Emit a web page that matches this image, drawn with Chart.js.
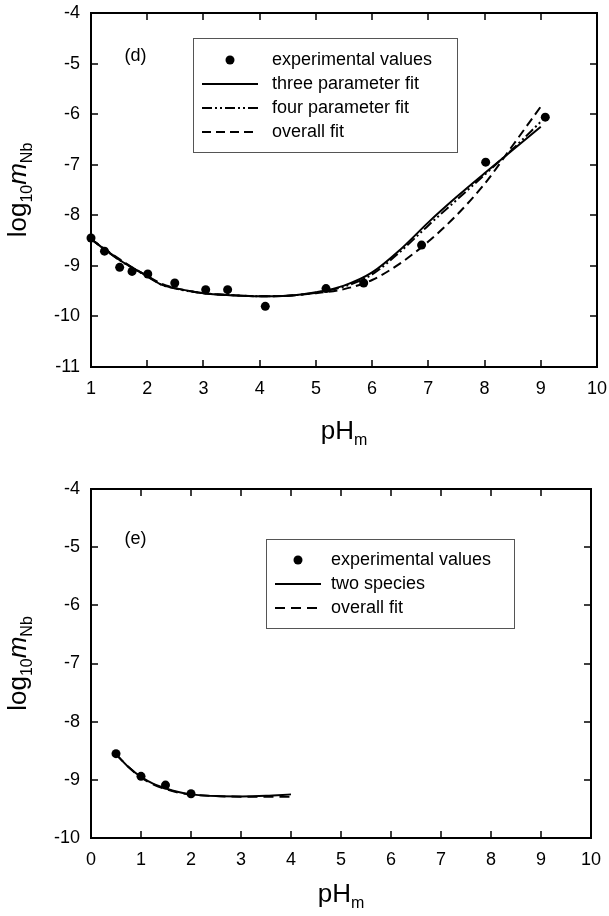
<!DOCTYPE html>
<html>
<head>
<meta charset="utf-8">
<script src="https://cdn.jsdelivr.net/npm/chart.js@4.4.1/dist/chart.umd.min.js"></script>
<style>
  html, body { margin: 0; padding: 0; background: #fff; }
  .panel { position: absolute; left: 0; }
</style>
</head>
<body>
<div class="panel" style="top:0"><canvas id="chartD" width="609" height="460"></canvas></div>
<div class="panel" style="top:460px"><canvas id="chartE" width="609" height="456"></canvas></div>
<script>
// panel (d)
const dExpX = [1.0, 1.24, 1.51, 1.73, 2.01, 2.49, 3.04, 3.43, 4.10, 5.18, 5.85, 6.88, 8.02, 9.08];
const dExpY = [-8.45, -8.71, -9.03, -9.11, -9.16, -9.34, -9.47, -9.47, -9.80, -9.45, -9.34, -8.59, -6.95, -6.06];
const dFitX = [1.0, 1.25, 1.5, 1.75, 2.0, 2.25, 2.5, 3.0, 3.5, 4.0, 4.5, 5.0, 5.5, 6.0, 6.5, 7.0, 7.5, 8.0, 8.5, 9.0];
const threeParamY = [-8.47, -8.68, -8.88, -9.05, -9.20, -9.37, -9.44, -9.54, -9.58, -9.60, -9.59, -9.52, -9.39, -9.13, -8.68, -8.14, -7.64, -7.17, -6.71, -6.25];
const fourParamY = [-8.47, -8.68, -8.88, -9.05, -9.21, -9.37, -9.45, -9.54, -9.58, -9.60, -9.59, -9.53, -9.41, -9.17, -8.72, -8.20, -7.70, -7.20, -6.69, -6.15];
const dOverallY = [-8.47, -8.67, -8.86, -9.04, -9.20, -9.35, -9.44, -9.54, -9.58, -9.60, -9.59, -9.54, -9.46, -9.28, -8.95, -8.52, -8.00, -7.38, -6.62, -5.85];
const dXTicks = [1, 2, 3, 4, 5, 6, 7, 8, 9, 10];
const dYTicks = [-11, -10, -9, -8, -7, -6, -5, -4];

// panel (e)
const eExpX = [0.5, 1.0, 1.49, 2.0];
const eExpY = [-8.55, -8.94, -9.09, -9.24];
const eFitX = [0.5, 0.75, 1.0, 1.25, 1.5, 1.75, 2.0, 2.5, 3.0, 3.5, 4.0];
const twoSpeciesY = [-8.56, -8.78, -8.95, -9.07, -9.15, -9.21, -9.25, -9.28, -9.285, -9.275, -9.25];
const eOverallY = [-8.56, -8.78, -8.96, -9.08, -9.16, -9.22, -9.25, -9.28, -9.29, -9.29, -9.29];
const eXTicks = [0, 1, 2, 3, 4, 5, 6, 7, 8, 9, 10];
const eYTicks = [-10, -9, -8, -7, -6, -5, -4];

const FONT = '"Liberation Sans", Arial, Helvetica, sans-serif';
const pts = (xs, ys) => xs.map((x, i) => ({ x: x, y: ys[i] }));

// box, inward ticks on all four sides
const framePlugin = {
    id: 'frame',
    afterDatasetsDraw(chart) {
        const { ctx, chartArea: a, scales: { x, y } } = chart;
        ctx.save();
        ctx.strokeStyle = '#000';
        ctx.lineWidth = 2;
        ctx.strokeRect(a.left, a.top, a.width, a.height);
        ctx.lineWidth = 1.5;
        ctx.beginPath();
        x.ticks.forEach(t => {
            const px = Math.round(x.getPixelForValue(t.value));
            if (px <= a.left + 1 || px >= a.right - 1) return;
            ctx.moveTo(px, a.bottom); ctx.lineTo(px, a.bottom - 7);
            ctx.moveTo(px, a.top); ctx.lineTo(px, a.top + 7);
        });
        y.ticks.forEach(t => {
            const py = Math.round(y.getPixelForValue(t.value));
            if (py <= a.top + 1 || py >= a.bottom - 1) return;
            ctx.moveTo(a.left, py); ctx.lineTo(a.left + 7, py);
            ctx.moveTo(a.right, py); ctx.lineTo(a.right - 7, py);
        });
        ctx.stroke();
        ctx.restore();
    }
};

function drawRich(ctx, parts, cx, baseY) {
    let w = 0;
    parts.forEach(p => { ctx.font = p.f; p.w = ctx.measureText(p.t).width; w += p.w; });
    let x = cx - w / 2;
    parts.forEach(p => {
        ctx.font = p.f;
        ctx.fillText(p.t, x, baseY + (p.dy || 0));
        x += p.w;
    });
}

// axis titles with sub scripts, panel tag, boxed legend
const annotPlugin = {
    id: 'annot',
    afterDraw(chart, args, opts) {
        const { ctx, chartArea: a, scales: { x, y } } = chart;
        ctx.save();
        ctx.fillStyle = '#000';
        ctx.textAlign = 'left';
        ctx.textBaseline = 'alphabetic';

        // x title
        drawRich(ctx, [
            { t: 'pH', f: '26px ' + FONT },
            { t: 'm', f: '16px ' + FONT, dy: 6 }
        ], (a.left + a.right) / 2, opts.xTitleBase);

        // y title
        ctx.save();
        ctx.translate(opts.yTitleX, (a.top + a.bottom) / 2);
        ctx.rotate(-Math.PI / 2);
        drawRich(ctx, [
            { t: 'log', f: '26px ' + FONT },
            { t: '10', f: '16px ' + FONT, dy: 6 },
            { t: 'm', f: 'italic 26px ' + FONT },
            { t: 'Nb', f: '16px ' + FONT, dy: 6 }
        ], 0, 0);
        ctx.restore();

        // panel tag
        ctx.font = '18px ' + FONT;
        ctx.textAlign = 'center';
        ctx.textBaseline = 'middle';
        ctx.fillText(opts.tag, x.getPixelForValue(opts.tagX), y.getPixelForValue(opts.tagY));

        // legend
        const L = opts.legend;
        ctx.strokeStyle = '#555';
        ctx.lineWidth = 1;
        ctx.strokeRect(L.left + 0.5, L.top + 0.5, L.width, L.height);
        ctx.textAlign = 'left';
        ctx.textBaseline = 'middle';
        chart.data.datasets.forEach((ds, i) => {
            const ry = L.firstRow + i * L.rowGap;
            ctx.strokeStyle = '#000';
            ctx.fillStyle = '#000';
            if (ds.showLine === false) {
                ctx.beginPath();
                ctx.arc(L.dotX, ry, 4.5, 0, Math.PI * 2);
                ctx.fill();
            } else {
                ctx.lineWidth = 2;
                ctx.setLineDash(ds.borderDash || []);
                ctx.beginPath();
                ctx.moveTo(L.lineX0, ry);
                ctx.lineTo(L.lineX1, ry);
                ctx.stroke();
                ctx.setLineDash([]);
            }
            ctx.font = '18px ' + FONT;
            ctx.fillText(ds.label, L.textX, ry);
        });
        ctx.restore();
    }
};

function scatterSet(label, xs, ys) {
    return {
        label: label, data: pts(xs, ys), showLine: false,
        pointRadius: 4.5, pointBackgroundColor: '#000', pointBorderColor: '#000',
        pointBorderWidth: 0, clip: false
    };
}

function lineSet(label, xs, ys, dash) {
    return {
        label: label, data: pts(xs, ys), showLine: true,
        borderColor: '#000', borderWidth: 2, borderDash: dash,
        pointRadius: 0, cubicInterpolationMode: 'monotone', clip: false
    };
}

// fixed axis size, no extra room for the end labels
function axis(min, max, tickVals, size) {
    return {
        type: 'linear', min: min, max: max,
        afterBuildTicks: s => { s.ticks = tickVals.map(v => ({ value: v })); },
        afterFit: s => {
            if (s.isHorizontal()) s.height = size; else s.width = size;
            s.paddingLeft = 0; s.paddingRight = 0;
            s.paddingTop = 0; s.paddingBottom = 0;
        },
        grid: { display: false, drawTicks: false },
        border: { display: false },
        ticks: {
            color: '#000', padding: 11, autoSkip: false, maxRotation: 0,
            font: { family: FONT, size: 18 }
        }
    };
}

Chart.defaults.animation = false;

new Chart(document.getElementById('chartD'), {
    type: 'scatter',
    data: {
        datasets: [
            scatterSet('experimental values', dExpX, dExpY),
            lineSet('three parameter fit', dFitX, threeParamY, []),
            lineSet('four parameter fit', dFitX, fourParamY, [10, 3, 2, 3, 2, 3]),
            lineSet('overall fit', dFitX, dOverallY, [9, 5])
        ]
    },
    options: {
        responsive: false,
        layout: { padding: { left: 0, top: 13, right: 12, bottom: 0 } },
        scales: {
            x: axis(1, 10, dXTicks, 93),
            y: axis(-11, -4, dYTicks, 91)
        },
        plugins: {
            legend: { display: false },
            tooltip: { enabled: false },
            annot: {
                tag: '(d)', tagX: 1.79, tagY: -4.86,
                xTitleBase: 439, yTitleX: 26,
                legend: { left: 193, top: 38, width: 264, height: 114, firstRow: 60, rowGap: 24,
                          dotX: 230, lineX0: 202, lineX1: 258, textX: 272 }
            }
        }
    },
    plugins: [framePlugin, annotPlugin]
});

new Chart(document.getElementById('chartE'), {
    type: 'scatter',
    data: {
        datasets: [
            scatterSet('experimental values', eExpX, eExpY),
            lineSet('two species', eFitX, twoSpeciesY, []),
            lineSet('overall fit', eFitX, eOverallY, [10, 6])
        ]
    },
    options: {
        responsive: false,
        layout: { padding: { left: 0, top: 29, right: 18, bottom: 0 } },
        scales: {
            x: axis(0, 10, eXTicks, 78),
            y: axis(-10, -4, eYTicks, 91)
        },
        plugins: {
            legend: { display: false },
            tooltip: { enabled: false },
            annot: {
                tag: '(e)', tagX: 0.89, tagY: -4.86,
                xTitleBase: 442, yTitleX: 26,
                legend: { left: 266, top: 539 - 460, width: 248, height: 89, firstRow: 100, rowGap: 24,
                          dotX: 298, lineX0: 275, lineX1: 321, textX: 331 }
            }
        }
    },
    plugins: [framePlugin, annotPlugin]
});
</script>
</body>
</html>
